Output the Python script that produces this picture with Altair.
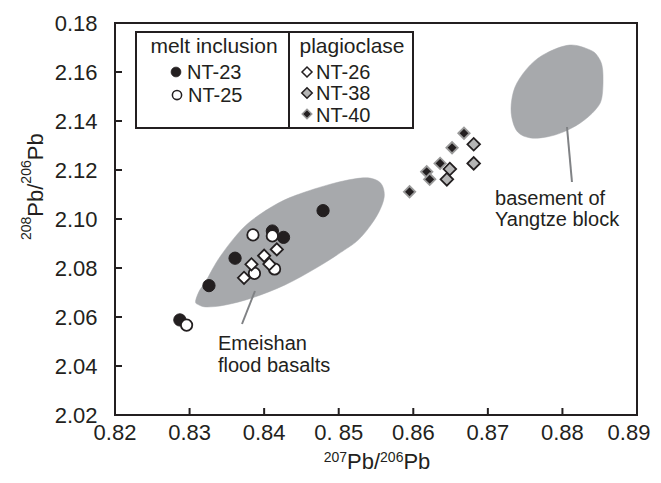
import altair as alt
import pandas as pd

# ---------------- data ----------------
nt23_x = [0.8287, 0.8326, 0.8361, 0.8411, 0.8426, 0.8479]
nt23_y = [2.0588, 2.0728, 2.0840, 2.0951, 2.0925, 2.1034]
nt25_x = [0.8296, 0.8385, 0.8411, 0.8387, 0.8414]
nt25_y = [2.0567, 2.0935, 2.0931, 2.0778, 2.0796]
nt26_x = [0.8417, 0.8400, 0.8407, 0.8383, 0.8373]
nt26_y = [2.0876, 2.0850, 2.0816, 2.0815, 2.0760]
nt38_x = [0.8681, 0.8681, 0.8649, 0.8645]
nt38_y = [2.1305, 2.1227, 2.1204, 2.1162]
nt40_x = [0.8668, 0.8652, 0.8636, 0.8618, 0.8622, 0.8595]
nt40_y = [2.1350, 2.1291, 2.1227, 2.1193, 2.1162, 2.1111]

# outline of the Emeishan flood basalt field
emei_x = [0.8308, 0.8313, 0.8322, 0.8338, 0.8361, 0.8384, 0.8419, 0.8451,
          0.8495, 0.8529, 0.8547, 0.8558, 0.8561, 0.8554, 0.8541, 0.8526,
          0.8508, 0.8472, 0.8428, 0.8384, 0.8348, 0.8323, 0.8312]
emei_y = [2.0663, 2.0706, 2.0747, 2.0833, 2.0927, 2.0996, 2.1065, 2.1106,
          2.1147, 2.1167, 2.1163, 2.1139, 2.1090, 2.1029, 2.0967, 2.0914,
          2.0874, 2.0804, 2.0731, 2.0678, 2.0649, 2.0641, 2.0650]
# outline of the Yangtze block basement field
base_x = [0.8779, 0.8810, 0.8837, 0.8848, 0.8854, 0.8853, 0.8844, 0.8824,
          0.8801, 0.8779, 0.8757, 0.8740, 0.8732, 0.8732, 0.8739, 0.8757]
base_y = [2.1678, 2.1710, 2.1690, 2.1661, 2.1608, 2.1498, 2.1445, 2.1392,
          2.1355, 2.1335, 2.1331, 2.1355, 2.1416, 2.1486, 2.1555, 2.1629]

x_ticks = [0.82, 0.83, 0.84, 0.85, 0.86, 0.87, 0.88, 0.89]
x_tick_labels = ["0.82", "0.83", "0.84", "0. 85", "0.86", "0.87", "0.88", "0.89"]
y_ticks = [2.02, 2.04, 2.06, 2.08, 2.10, 2.12, 2.14, 2.16, 2.18]

groups = ["NT-23", "NT-25", "NT-26", "NT-38", "NT-40"]
legend_heads = ["melt inclusion", "plagioclase"]

# axis titles: (text, is_superscript)
x_title_parts = [("207", True), ("Pb/", False), ("206", True), ("Pb", False)]
y_title_parts = [("208", True), ("Pb/", False), ("206", True), ("Pb", False)]

# ---------------- styling ----------------
FONT = "Liberation Sans"
BLACK = "#231f20"
GRAY = "#a7a9ac"
LGRAY = "#b5b5b5"
LEADER = "#808285"
W, H = 522, 392
BIG, SUP = 22, 14

# approximate advance widths (em) of Liberation Sans glyphs used in the titles
ADV = {"0": 0.556, "2": 0.556, "6": 0.556, "7": 0.556, "8": 0.556,
       "P": 0.667, "b": 0.556, "/": 0.278}


def text_width(s, size):
    return sum(ADV[c] for c in s) * size


xs = alt.Scale(domain=[0.82, 0.89], nice=False, zero=False)
ys = alt.Scale(domain=[2.02, 2.18], nice=False, zero=False)

x_axis = alt.Axis(values=x_ticks, tickSize=0, domain=False, grid=False, labels=False, title="")
y_axis = alt.Axis(values=y_ticks, tickSize=0, domain=False, grid=False,
                  labelExpr="abs(datum.value-2.18)<1e-9 ? '0.18' : format(datum.value, '.2f')",
                  labelFont=FONT, labelFontSize=22, labelColor=BLACK, labelPadding=18,
                  labelFlush=False, labelOverlap=False, title="")


def X(field="x", axis=None):
    if axis is None:
        return alt.X(f"{field}:Q", scale=xs)
    return alt.X(f"{field}:Q", scale=xs, axis=axis)


def Y(field="y", axis=None):
    if axis is None:
        return alt.Y(f"{field}:Q", scale=ys)
    return alt.Y(f"{field}:Q", scale=ys, axis=axis)


layers = []

# fields
emei_df = pd.DataFrame({"x": emei_x, "y": emei_y, "i": range(len(emei_x))})
base_df = pd.DataFrame({"x": base_x, "y": base_y, "i": range(len(base_x))})
layers.append(alt.Chart(emei_df).mark_line(filled=True, fill=GRAY, stroke=GRAY, strokeWidth=0.5,
                                           interpolate="cardinal-closed").encode(
    x=X(axis=x_axis), y=Y(axis=y_axis), order="i:Q"))
layers.append(alt.Chart(base_df).mark_line(filled=True, fill=GRAY, stroke=GRAY, strokeWidth=0.5,
                                           interpolate="cardinal-closed").encode(
    x=X(), y=Y(), order="i:Q"))

# leader lines
lead_df = pd.DataFrame({"x": [0.83877, 0.88061], "y": [2.07061, 2.13755],
                        "x2": [0.83703, 0.88128], "y2": [2.05714, 2.11510]})
layers.append(alt.Chart(lead_df).mark_rule(color=LEADER, strokeWidth=2).encode(
    x=X(), y=Y(), x2="x2:Q", y2="y2:Q"))

# annotation text
ann_df = pd.DataFrame({"x": [0.83381, 0.83381, 0.87096, 0.87096],
                       "y": [2.04653, 2.03755, 2.10571, 2.09714],
                       "t": ["Emeishan", "flood basalts", "basement of", "Yangtze block"]})
layers.append(alt.Chart(ann_df).mark_text(align="left", baseline="alphabetic", font=FONT,
                                          fontSize=20, color=BLACK).encode(
    x=X(), y=Y(), text="t:N"))

# inward ticks
layers.append(alt.Chart(pd.DataFrame({"v": y_ticks[1:-1]})).mark_rule(color=BLACK, strokeWidth=2).encode(
    y=Y("v"), x=alt.value(0), x2=alt.value(7)))
layers.append(alt.Chart(pd.DataFrame({"v": x_ticks[1:-1]})).mark_rule(color=BLACK, strokeWidth=2).encode(
    x=X("v"), y=alt.value(H), y2=alt.value(H - 7)))

# x tick labels (the last one sits a little left of its tick, as in the reference)
xl_df = pd.DataFrame({"v": x_ticks, "lab": x_tick_labels})
layers.append(alt.Chart(xl_df.iloc[:-1]).mark_text(align="center", baseline="top", font=FONT,
                                                   fontSize=22, color=BLACK).encode(
    x=X("v"), y=alt.value(H + 8), text="lab:N"))
layers.append(alt.Chart(xl_df.iloc[-1:]).mark_text(align="center", baseline="top", font=FONT,
                                                   fontSize=22, color=BLACK, dx=-8).encode(
    x=X("v"), y=alt.value(H + 8), text="lab:N"))

# data points
styles = {
    "NT-23": dict(shape="circle", size=150, fill=BLACK, stroke=BLACK, strokeWidth=1),
    "NT-25": dict(shape="circle", size=130, fill="white", stroke=BLACK, strokeWidth=1.8),
    "NT-26": dict(shape="diamond", size=150, fill="white", stroke=BLACK, strokeWidth=1.8),
    "NT-38": dict(shape="diamond", size=160, fill=LGRAY, stroke=BLACK, strokeWidth=1.8),
    "NT-40": dict(shape="diamond", size=130, fill=BLACK, stroke="#9a9a9a", strokeWidth=1.8),
}
series = {"NT-23": (nt23_x, nt23_y), "NT-25": (nt25_x, nt25_y), "NT-26": (nt26_x, nt26_y),
          "NT-38": (nt38_x, nt38_y), "NT-40": (nt40_x, nt40_y)}
for g in groups:
    gx, gy = series[g]
    s = styles[g]
    layers.append(alt.Chart(pd.DataFrame({"x": gx, "y": gy})).mark_point(
        shape=s["shape"], size=s["size"], filled=True, fill=s["fill"], stroke=s["stroke"],
        strokeWidth=s["strokeWidth"], opacity=1).encode(x=X(), y=Y()))

# legend box
one = pd.DataFrame({"a": [0]})
layers.append(alt.Chart(one).mark_rect(fill="white", stroke=BLACK, strokeWidth=2).encode(
    x=alt.value(21), x2=alt.value(298), y=alt.value(9), y2=alt.value(105)))
layers.append(alt.Chart(one).mark_rule(color=BLACK, strokeWidth=2).encode(
    x=alt.value(174), y=alt.value(9), y2=alt.value(105)))
head_pos = [(99, 30), (237, 30)]
for t, (px, py) in zip(legend_heads, head_pos):
    layers.append(alt.Chart(one).mark_text(text=t, align="center", baseline="alphabetic",
                                           font=FONT, fontSize=21, color=BLACK).encode(
        x=alt.value(px), y=alt.value(py)))
sym_pos = {"NT-23": (61, 49), "NT-25": (62, 72), "NT-26": (192, 49),
           "NT-38": (192, 70), "NT-40": (192, 91)}
txt_pos = {"NT-23": (72, 55.5), "NT-25": (73, 78.5), "NT-26": (201, 55.5),
           "NT-38": (201, 77), "NT-40": (201, 98.5)}
leg_size = {"NT-23": 95, "NT-25": 85, "NT-26": 100, "NT-38": 110, "NT-40": 90}
for g in groups:
    s = styles[g]
    px, py = sym_pos[g]
    layers.append(alt.Chart(one).mark_point(
        shape=s["shape"], size=leg_size[g], filled=True, fill=s["fill"], stroke=s["stroke"],
        strokeWidth=s["strokeWidth"] * 0.85, opacity=1).encode(x=alt.value(px), y=alt.value(py)))
    tx, ty = txt_pos[g]
    layers.append(alt.Chart(one).mark_text(text=g, align="left", baseline="alphabetic",
                                           font=FONT, fontSize=20, color=BLACK).encode(
        x=alt.value(tx), y=alt.value(ty)))

# axis titles with real superscripts (smaller, raised text)
total = sum(text_width(t, SUP if sup else BIG) for t, sup in x_title_parts)
cx = 262 - total / 2           # horizontal centre of the title (plot px)
for t, sup in x_title_parts:
    size = SUP if sup else BIG
    layers.append(alt.Chart(one).mark_text(text=t, align="left", baseline="alphabetic",
                                           font=FONT, fontSize=size, color=BLACK).encode(
        x=alt.value(cx), y=alt.value(439 if sup else 446)))
    cx += text_width(t, size)

cy = 217                        # bottom end of the rotated y title (plot px)
for t, sup in y_title_parts:
    size = SUP if sup else BIG
    layers.append(alt.Chart(one).mark_text(text=t, align="left", baseline="alphabetic", angle=270,
                                           font=FONT, fontSize=size, color=BLACK).encode(
        x=alt.value(-84 if sup else -72), y=alt.value(cy)))
    cy -= text_width(t, size)

chart = alt.layer(*layers).properties(
    width=W, height=H,
    background="white",
    autosize=alt.AutoSizeParams(type="none"),
    padding={"left": 107, "top": 15, "right": 16, "bottom": 60},
).configure_view(stroke=BLACK, strokeWidth=2)

chart.save("out.html", embed_options={"renderer": "svg", "actions": False})
